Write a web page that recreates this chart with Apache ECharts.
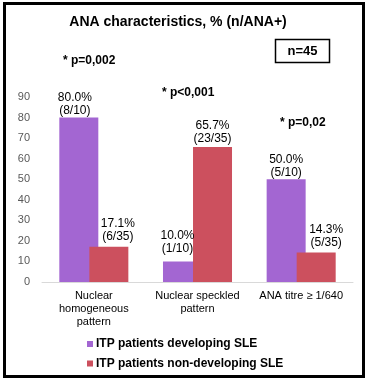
<!DOCTYPE html>
<html>
<head>
<meta charset="utf-8">
<script src="https://cdn.jsdelivr.net/npm/echarts@6/dist/echarts.min.js"></script>
<style>html,body{margin:0;padding:0;background:#fff}#c{width:368px;height:380px}</style>
</head>
<body>
<div id="c"></div>
<script>
var categories = ['Nuclear\nhomogeneous\npattern', 'Nuclear speckled\npattern', 'ANA titre \u2265 1/640'];
var seriesNames = ['ITP patients developing SLE', 'ITP patients non-developing SLE'];
var developingValues = [80.0, 10.0, 50.0];
var developingCounts = ['(8/10)', '(1/10)', '(5/10)'];
var nonDevelopingValues = [17.1, 65.7, 14.3];
var nonDevelopingCounts = ['(6/35)', '(23/35)', '(5/35)'];
var yTicks = [0, 10, 20, 30, 40, 50, 60, 70, 80, 90];
var pValues = ['* p=0,002', '* p<0,001', '* p=0,02'];
var titleText = 'ANA characteristics, % (n/ANA+)';
var nText = 'n=45';

var FONT = '"Liberation Sans", Arial, sans-serif';
var BW = 39;
// label anchor relative to each bar's top-left corner (x: horizontal center of text, y: bottom of text)
var devPos = [[BW / 2 - 4, -0.5], [BW / 2 - 5, -6], [BW / 2, 0]];
var nonPos = [[BW / 2 + 9, -3.5], [BW / 2, -2], [BW / 2 + 10, -3]];

function mk(vals, counts, pos) {
  return vals.map(function (v, i) {
    return { value: v, label: { position: pos[i], formatter: v.toFixed(1) + '%\n' + counts[i] } };
  });
}

var labelBase = { show: true, align: 'center', verticalAlign: 'bottom', color: '#000', fontSize: 12, lineHeight: 13, fontFamily: FONT };

var chart = echarts.init(document.getElementById('c'), null, { renderer: 'canvas' });
chart.setOption({
  animation: false,
  textStyle: { fontFamily: FONT },
  grid: { left: 42, right: 15, top: 97, bottom: 98, containLabel: false },
  xAxis: {
    type: 'category',
    data: categories,
    axisLine: { lineStyle: { color: '#D9D9D9', width: 1 } },
    axisTick: { show: false },
    axisLabel: { color: '#000', fontSize: 11, lineHeight: 13, margin: 7, fontFamily: FONT, interval: 0 }
  },
  yAxis: {
    type: 'value',
    min: yTicks[0],
    max: yTicks[yTicks.length - 1],
    interval: 10,
    splitLine: { show: false },
    axisLine: { show: false },
    axisTick: { show: false },
    axisLabel: { color: '#595959', fontSize: 11, margin: 12, fontFamily: FONT }
  },
  legend: {
    orient: 'vertical',
    left: 82,
    top: 332,
    itemWidth: 6,
    itemHeight: 6,
    itemGap: 5.5,
    icon: 'rect',
    textStyle: { fontSize: 12, fontWeight: 'bold', color: '#000', lineHeight: 14, fontFamily: FONT, padding: [0, 0, 0, -2] },
    data: seriesNames
  },
  series: [
    {
      name: seriesNames[0],
      type: 'bar',
      barWidth: BW,
      barGap: '-23%',
      itemStyle: { color: '#A366D2' },
      label: labelBase,
      data: mk(developingValues, developingCounts, devPos)
    },
    {
      name: seriesNames[1],
      type: 'bar',
      barWidth: BW,
      barGap: '-23%',
      itemStyle: { color: '#CC505E' },
      label: labelBase,
      data: mk(nonDevelopingValues, nonDevelopingCounts, nonPos)
    }
  ],
  graphic: [
    { type: 'rect', shape: { x: 4.5, y: 3.5, width: 359, height: 373 }, style: { fill: 'none', stroke: '#000', lineWidth: 3 }, silent: true },
    { type: 'text', x: 178, y: 22, style: { text: titleText, font: 'bold 14px ' + FONT, fill: '#000', textAlign: 'center', textVerticalAlign: 'middle' } },
    { type: 'rect', shape: { x: 275.5, y: 39.5, width: 54, height: 23 }, style: { fill: '#fff', stroke: '#000', lineWidth: 1.5 } },
    { type: 'text', x: 302.5, y: 51, style: { text: nText, font: 'bold 13px ' + FONT, fill: '#000', textAlign: 'center', textVerticalAlign: 'middle' } },
    { type: 'text', x: 63, y: 61, style: { text: pValues[0], font: 'bold 12px ' + FONT, fill: '#000', textAlign: 'left', textVerticalAlign: 'middle' } },
    { type: 'text', x: 162, y: 93, style: { text: pValues[1], font: 'bold 12px ' + FONT, fill: '#000', textAlign: 'left', textVerticalAlign: 'middle' } },
    { type: 'text', x: 280, y: 123, style: { text: pValues[2], font: 'bold 12px ' + FONT, fill: '#000', textAlign: 'left', textVerticalAlign: 'middle' } }
  ]
});
</script>
</body>
</html>
